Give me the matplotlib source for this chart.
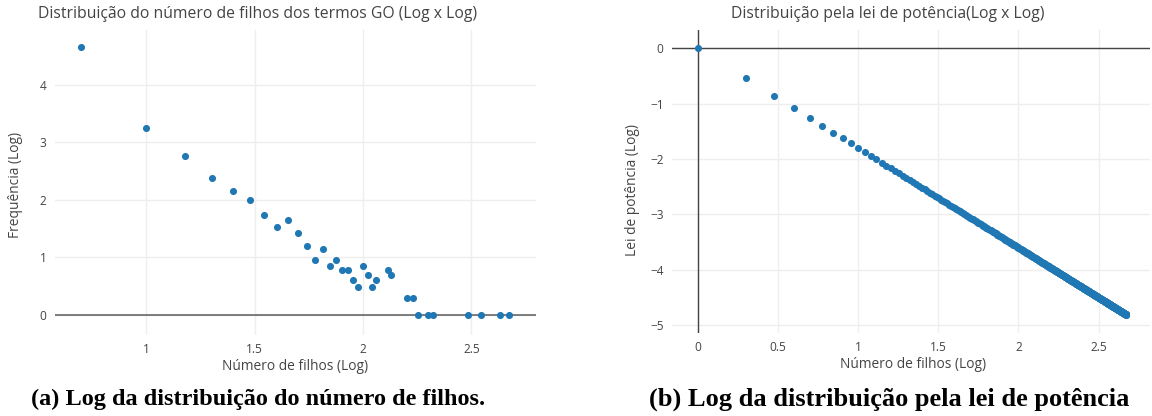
"""Log-log distribution of GO term children vs. power law."""

import matplotlib
matplotlib.use("Agg")
import matplotlib.pyplot as plt
from matplotlib.ticker import FuncFormatter
import numpy as np

# (a) log10(number of children) vs log10(frequency)
log_filhos = [0.699, 1.0, 1.176, 1.301, 1.398, 1.477, 1.544, 1.602, 1.653,
              1.699, 1.740, 1.778, 1.813, 1.845, 1.875, 1.903, 1.929, 1.954,
              1.978, 2.0, 2.021, 2.041, 2.061, 2.114, 2.130, 2.204, 2.230,
              2.255, 2.301, 2.322, 2.484, 2.544, 2.633, 2.672]
log_freq = [4.66, 3.25, 2.757, 2.38, 2.155, 2.0, 1.74, 1.519, 1.653,
            1.431, 1.204, 0.954, 1.146, 0.845, 0.954, 0.778, 0.778, 0.602,
            0.477, 0.845, 0.699, 0.477, 0.602, 0.778, 0.699, 0.301, 0.301,
            0.0, 0.0, 0.0, 0.0, 0.0, 0.0, 0.0]

# (b) power law: number of children 1..469, exponent read from the slope
n_filhos = np.arange(1, 470)
expoente = -1.8
log_n = np.log10(n_filhos)
log_lei = expoente * log_n

AZUL = "#1f77b4"
CINZA = "#444444"
GRADE = "#eeeeee"
FONTE = ["Open Sans", "DejaVu Sans"]

plt.rcParams["font.family"] = FONTE

fig = plt.figure(figsize=(11.52, 4.16), dpi=100)
W, H = 1152, 416


def px_axes(x0, y0, x1, y1):
    return fig.add_axes([x0 / W, 1 - y1 / H, (x1 - x0) / W, (y1 - y0) / H])


def style(ax):
    for s in ax.spines.values():
        s.set_visible(False)
    ax.grid(True, color=GRADE, linewidth=1)
    ax.set_axisbelow(True)
    ax.tick_params(length=0, labelsize=8.6, colors=CINZA, pad=6)
    fmt = FuncFormatter(lambda v, _: f"{v:g}".replace("-", "\u2212"))
    ax.xaxis.set_major_formatter(fmt)
    ax.yaxis.set_major_formatter(fmt)


# left panel
ax1 = px_axes(55, 30, 536, 335)
style(ax1)
ax1.axhline(0, color=CINZA, linewidth=1.2, zorder=1, alpha=0.8)
ax1.scatter(log_filhos, log_freq, s=26, color=AZUL, linewidths=0, zorder=3)
ax1.set_xlim(0.578, 2.798)
ax1.set_ylim(-0.35, 4.95)
ax1.set_xticks([1, 1.5, 2, 2.5])
ax1.set_yticks([0, 1, 2, 3, 4])

# right panel
ax2 = px_axes(672, 30, 1150, 333)
style(ax2)
ax2.axhline(0, color=CINZA, linewidth=1, zorder=1)
ax2.axvline(0, color=CINZA, linewidth=1, zorder=1)
ax2.scatter(log_n, log_lei, s=26, color=AZUL, linewidths=0, zorder=3)
ax2.set_xlim(-0.16, 2.82)
ax2.set_ylim(-5.14, 0.33)
ax2.set_xticks([0, 0.5, 1, 1.5, 2, 2.5])
ax2.set_yticks([0, -1, -2, -3, -4, -5])

# titles and axis labels placed as in the original layout
def ftext(x, y, s, **kw):
    fig.text(x / W, 1 - y / H, s, ha="center", va="center", **kw)


ftext(258, 14, "Distribuição do número de filhos dos termos GO (Log x Log)",
      fontsize=11.3, color=CINZA)
ftext(888, 14, "Distribuição pela lei de potência(Log x Log)",
      fontsize=11.3, color=CINZA)
ftext(295, 367, "Número de filhos (Log)", fontsize=9.9, color=CINZA)
ftext(913, 365, "Número de filhos (Log)", fontsize=9.9, color=CINZA)
ftext(16, 185, "Frequência (Log)", fontsize=9.9, color=CINZA, rotation=90)
ftext(632, 190, "Lei de potência (Log)", fontsize=9.9, color=CINZA, rotation=90)

ftext(258, 399, "(a) Log da distribuição do número de filhos.",
      fontsize=17.5, fontweight="bold", family="Liberation Serif", color="black")
ftext(889, 399, "(b) Log da distribuição pela lei de potência",
      fontsize=19, fontweight="bold", family="Liberation Serif", color="black")

fig.savefig("out.png", dpi=100)
